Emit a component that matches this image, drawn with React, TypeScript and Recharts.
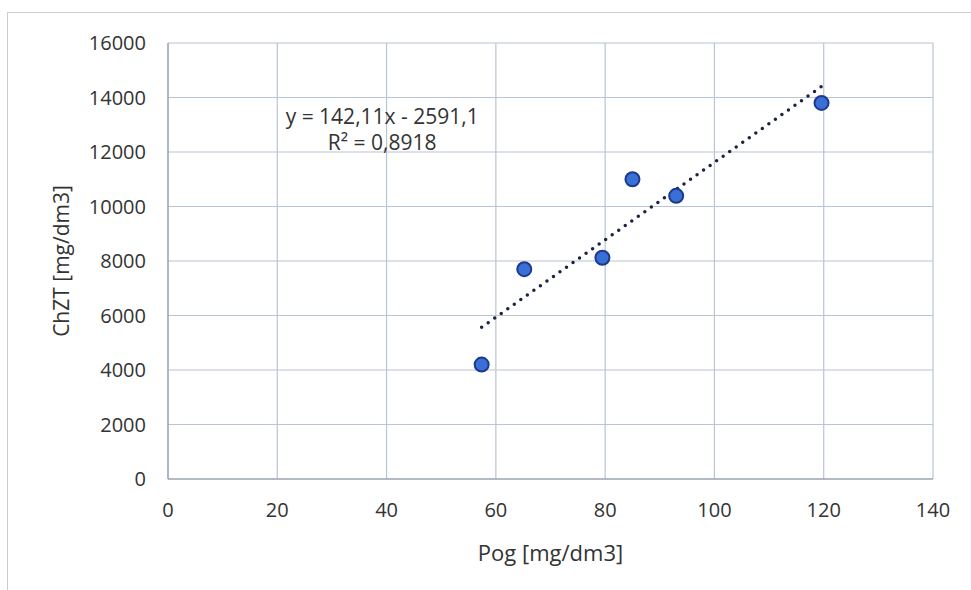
import {
  ReferenceDot,
  Scatter,
  ScatterChart,
  CartesianGrid,
  XAxis,
  YAxis
} from "recharts";

const pogValues = [57.4, 65.2, 79.5, 85.0, 93.0, 119.6];
const chztValues = [4200, 7700, 8120, 11000, 10390, 13800];

const xTicks = [0, 20, 40, 60, 80, 100, 120, 140];
const yTicks = [0, 2000, 4000, 6000, 8000, 10000, 12000, 14000, 16000];

// linear trendline as shown on the chart
const slope = 142.11;
const intercept = -2591.1;
const equationText = "y = 142,11x - 2591,1";
const rSquaredText = "R² = 0,8918";

const FONT = "'Open Sans', 'Liberation Sans', sans-serif";
const TEXT_COLOR = "#333333";
const GRID_COLOR = "#b9c4d4";
const AXIS_COLOR = "#8a94a3";

const points = pogValues.map((x, i) => ({ x, y: chztValues[i] }));
const xMin = Math.min(...pogValues);
const xMax = Math.max(...pogValues);
const trend = [xMin, xMax].map((x) => ({ x, y: slope * x + intercept }));

export default function App(): JSX.Element {
  return (
    <div
      style={{
        position: "absolute",
        left: 0,
        top: 0,
        width: 971,
        height: 590,
        background: "#fff",
        fontFamily: FONT
      }}
    >
      <div
        style={{
          position: "absolute",
          left: 7,
          top: 12,
          right: 0,
          bottom: 0,
          borderTop: "1px solid #c9ccd2",
          borderLeft: "1px solid #c9ccd2"
        }}
      />
      <ScatterChart
        width={971}
        height={590}
        margin={{ top: 43, right: 38, bottom: 0, left: 0 }}
        style={{ fontFamily: FONT }}
      >
        <CartesianGrid stroke={GRID_COLOR} strokeWidth={1.2} />
        <XAxis
          type="number"
          dataKey="x"
          domain={[0, 140]}
          ticks={xTicks}
          height={111}
          tickSize={0}
          tickMargin={24}
          stroke={AXIS_COLOR}
          tick={{ fill: TEXT_COLOR, fontSize: 20 }}
          label={{
            value: "Pog [mg/dm3]",
            position: "insideBottom",
            offset: 29,
            fill: TEXT_COLOR,
            fontSize: 22
          }}
        />
        <YAxis
          type="number"
          dataKey="y"
          domain={[0, 16000]}
          ticks={yTicks}
          width={168}
          tickSize={0}
          tickMargin={22}
          stroke={AXIS_COLOR}
          tick={{ fill: TEXT_COLOR, fontSize: 20 }}
          label={{
            value: "ChZT [mg/dm3]",
            angle: -90,
            position: "center",
            dx: -22,
            fill: TEXT_COLOR,
            fontSize: 21
          }}
        />
        <Scatter
          data={trend}
          isAnimationActive={false}
          shape={() => null}
          line={{
            stroke: "#1b2340",
            strokeWidth: 3.5,
            strokeDasharray: "0 8",
            strokeLinecap: "round"
          }}
        />
        <Scatter
          data={points}
          isAnimationActive={false}
          fill="#3567c9"
          shape={(props: any) => (
            <circle
              cx={props.cx}
              cy={props.cy}
              r={7}
              fill="#3a6fd6"
              stroke="#1d3a8c"
              strokeWidth={2}
            />
          )}
        />
        <ReferenceDot
          x={39.2}
          y={13290}
          r={0}
          ifOverflow="visible"
          label={{ value: equationText, position: "center", fill: TEXT_COLOR, fontSize: 21 }}
        />
        <ReferenceDot
          x={39.2}
          y={12330}
          r={0}
          ifOverflow="visible"
          label={{ value: rSquaredText, position: "center", fill: TEXT_COLOR, fontSize: 21 }}
        />
      </ScatterChart>
    </div>
  );
}
